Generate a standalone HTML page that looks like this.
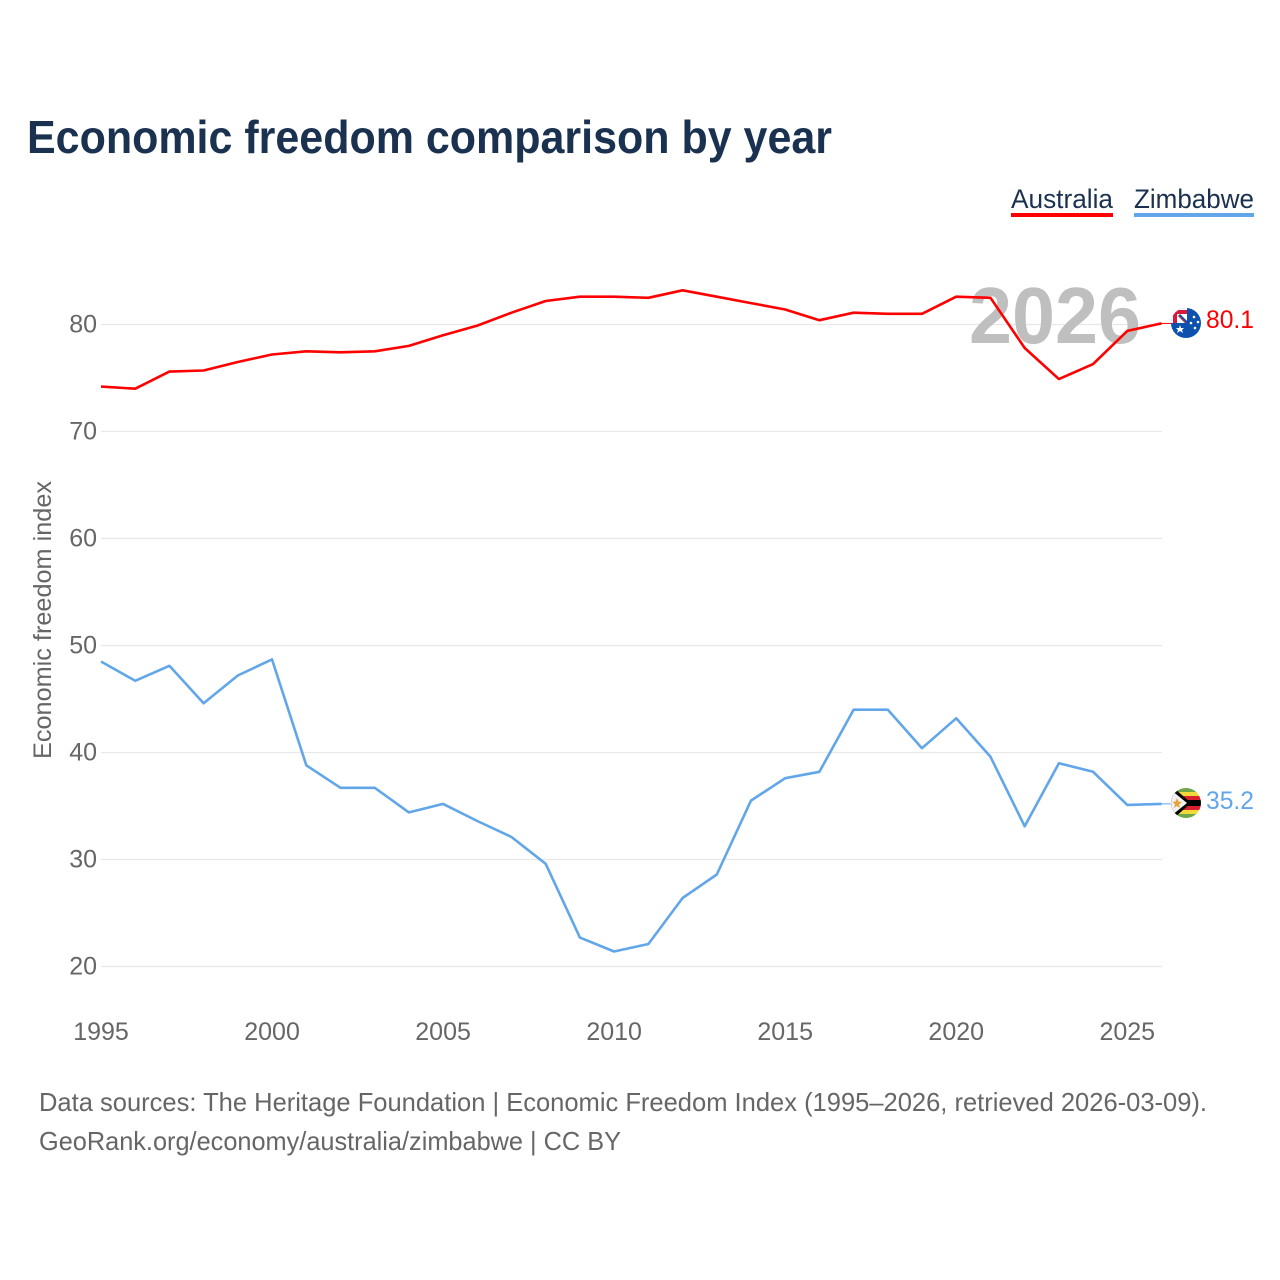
<!DOCTYPE html>
<html lang="en">
<head>
<meta charset="utf-8">
<title>Economic freedom comparison by year</title>
<style>
html,body{margin:0;padding:0;background:#fff;}
svg{display:block;font-family:"Liberation Sans",sans-serif;}
</style>
</head>
<body>
<svg id="chart" width="1280" height="1280" viewBox="0 0 1280 1280" xmlns="http://www.w3.org/2000/svg">
  <rect width="1280" height="1280" fill="#ffffff"/>
  <text x="27" y="153" font-size="46" font-weight="700" fill="#1a3150" textLength="805" lengthAdjust="spacingAndGlyphs">Economic freedom comparison by year</text>

  <g>
    <text x="1011" y="208" font-size="27" fill="#1a3150" textLength="102" lengthAdjust="spacingAndGlyphs">Australia</text>
    <rect x="1011" y="213" width="102" height="4" fill="#ff0000"/>
  </g>
  <g>
    <text x="1134" y="208" font-size="27" fill="#1a3150" textLength="120" lengthAdjust="spacingAndGlyphs">Zimbabwe</text>
    <rect x="1134" y="213" width="120" height="4" fill="#62a6ea"/>
  </g>

  <g id="grid"></g>
  <g id="y-labels"></g>
  <g id="x-labels"></g>

  <text transform="translate(51,759) rotate(-90)" font-size="25" fill="#666666" textLength="278" lengthAdjust="spacingAndGlyphs">Economic freedom index</text>

  <text x="969" y="343" font-size="80" font-weight="700" fill="#bfbfbf" textLength="172" lengthAdjust="spacingAndGlyphs">2026</text>

  <g id="series"></g>

  <defs>
    <clipPath id="clip-au"><circle cx="1186" cy="323" r="15"/></clipPath>
    <clipPath id="clip-zw"><circle cx="1186" cy="803" r="15"/></clipPath>
  </defs>

  <g clip-path="url(#clip-au)">
    <rect x="1171" y="308" width="30" height="30" fill="#0b51ad"/>
    <rect x="1171" y="308" width="16" height="15" fill="#ffffff"/>
    <path d="M1173 323V313q0-3 3-3h11v4h-9q-1 0-1 1v8z" fill="#d9193c"/>
    <path d="M1179 315l8 8" stroke="#0b51ad" stroke-width="3"/>
    <path d="M1179 316l7 7" stroke="#d9193c" stroke-width="1"/>
    <polygon points="1180,325 1181,328 1184,328 1182,330 1183,333 1180,331 1177,333 1178,330 1176,328 1179,328" fill="#ffffff"/>
    <circle cx="1194" cy="317" r="1.3" fill="#ffffff"/>
    <circle cx="1191" cy="323" r="1.3" fill="#ffffff"/>
    <circle cx="1198" cy="322" r="1.3" fill="#ffffff"/>
    <circle cx="1195" cy="328" r="1.3" fill="#ffffff"/>
  </g>
  <g clip-path="url(#clip-zw)">
    <rect x="1171" y="788" width="30" height="5" fill="#6fa84a"/>
    <rect x="1171" y="792" width="30" height="4.500" fill="#f3d83a"/>
    <rect x="1171" y="796" width="30" height="4" fill="#d8202f"/>
    <rect x="1171" y="800" width="30" height="6" fill="#000000"/>
    <rect x="1171" y="806" width="30" height="4" fill="#d8202f"/>
    <rect x="1171" y="810" width="30" height="4" fill="#f3d83a"/>
    <rect x="1171" y="814" width="30" height="5" fill="#6fa84a"/>
    <polygon points="1171,788 1174,788 1191,803 1174,818 1171,818" fill="#000000"/>
    <polygon points="1171,790 1187,803 1171,816" fill="#f1f1f1"/>
    <polygon points="1177,798 1178.500,801.500 1182,802 1179,804.500 1180,808 1177,806 1174,808 1175,804.500 1172.500,802 1175.500,801.500" fill="#e8a33a"/>
  </g>

  <text id="label-au" x="1206" y="328" font-size="25" fill="#ff0000" textLength="48" lengthAdjust="spacingAndGlyphs"></text>
  <text id="label-zw" x="1206" y="809" font-size="25" fill="#62a6ea" textLength="48" lengthAdjust="spacingAndGlyphs"></text>

  <text x="39" y="1111" font-size="26" fill="#666666" textLength="1168" lengthAdjust="spacingAndGlyphs">Data sources: The Heritage Foundation | Economic Freedom Index (1995–2026, retrieved 2026-03-09).</text>
  <text x="39" y="1150" font-size="26" fill="#666666" textLength="582" lengthAdjust="spacingAndGlyphs">GeoRank.org/economy/australia/zimbabwe | CC BY</text>
</svg>
<script>
const years = [1995,1996,1997,1998,1999,2000,2001,2002,2003,2004,2005,2006,2007,2008,2009,2010,2011,2012,2013,2014,2015,2016,2017,2018,2019,2020,2021,2022,2023,2024,2025,2026];
const australia = [74.2,74.0,75.6,75.7,76.5,77.2,77.5,77.4,77.5,78.0,79.0,79.9,81.1,82.2,82.6,82.6,82.5,83.2,82.6,82.0,81.4,80.4,81.1,81.0,81.0,82.6,82.5,77.8,74.9,76.3,79.4,80.1];
const zimbabwe = [48.5,46.7,48.1,44.6,47.2,48.7,38.8,36.7,36.7,34.4,35.2,33.6,32.1,29.6,22.7,21.4,22.1,26.4,28.6,35.5,37.6,38.2,44.0,44.0,40.4,43.2,39.6,33.1,39.0,38.2,35.1,35.2];
const yTicks = [20,30,40,50,60,70,80];
const xTicks = [1995,2000,2005,2010,2015,2020,2025];

const NS = 'http://www.w3.org/2000/svg';
const xOf = function (year) { return 101 + (year - 1995) * (1161.5 - 101) / 31; };
const yOf = function (value) { return 966.5 - (value - 20) * 10.7; };

const grid = document.getElementById('grid');
const yLabels = document.getElementById('y-labels');
yTicks.forEach(function (tick) {
  const line = document.createElementNS(NS, 'line');
  
  
  line.setAttribute('x1', 101);
  line.setAttribute('x2', 1162);
  line.setAttribute('y1', yOf(tick));
  line.setAttribute('y2', yOf(tick));
  line.setAttribute('stroke', '#e8e8e8');
  line.setAttribute('stroke-width', '1.300');
  grid.appendChild(line);

  const label = document.createElementNS(NS, 'text');
  
  
  label.setAttribute('x', 97);
  label.setAttribute('y', yOf(tick) + 8);
  label.setAttribute('text-anchor', 'end');
  label.setAttribute('font-size', '25');
  label.setAttribute('fill', '#666666');
  label.textContent = tick;
  yLabels.appendChild(label);
});

const xLabels = document.getElementById('x-labels');
xTicks.forEach(function (tick) {
  const label = document.createElementNS(NS, 'text');
  
  
  label.setAttribute('x', xOf(tick));
  label.setAttribute('y', 1040);
  label.setAttribute('text-anchor', 'middle');
  label.setAttribute('font-size', '25');
  label.setAttribute('fill', '#666666');
  label.textContent = tick;
  xLabels.appendChild(label);
});

const seriesGroup = document.getElementById('series');
function drawSeries(values, color, name) {
  const path = document.createElementNS(NS, 'path');
  
  
  path.setAttribute('d', values.map(function (v, i) {
    return (i ? 'L' : 'M') + xOf(years[i]).toFixed(1) + ' ' + yOf(v).toFixed(1);
  }).join(''));
  path.setAttribute('fill', 'none');
  path.setAttribute('stroke', color);
  path.setAttribute('stroke-width', '2.600');
  path.setAttribute('stroke-linejoin', 'round');
  seriesGroup.appendChild(path);

  const last = values[values.length - 1];
  const connector = document.createElementNS(NS, 'line');
  
  
  connector.setAttribute('x1', xOf(years[years.length - 1]));
  connector.setAttribute('x2', 1171);
  connector.setAttribute('y1', yOf(last));
  connector.setAttribute('y2', yOf(last));
  connector.setAttribute('stroke', color);
  connector.setAttribute('stroke-width', '1');
  seriesGroup.appendChild(connector);
}
drawSeries(australia, '#ff0000', 'australia-line');
drawSeries(zimbabwe, '#62a6ea', 'zimbabwe-line');

document.getElementById('label-au').textContent = australia[australia.length - 1].toFixed(1);
document.getElementById('label-zw').textContent = zimbabwe[zimbabwe.length - 1].toFixed(1);
</script>
</body>
</html>
